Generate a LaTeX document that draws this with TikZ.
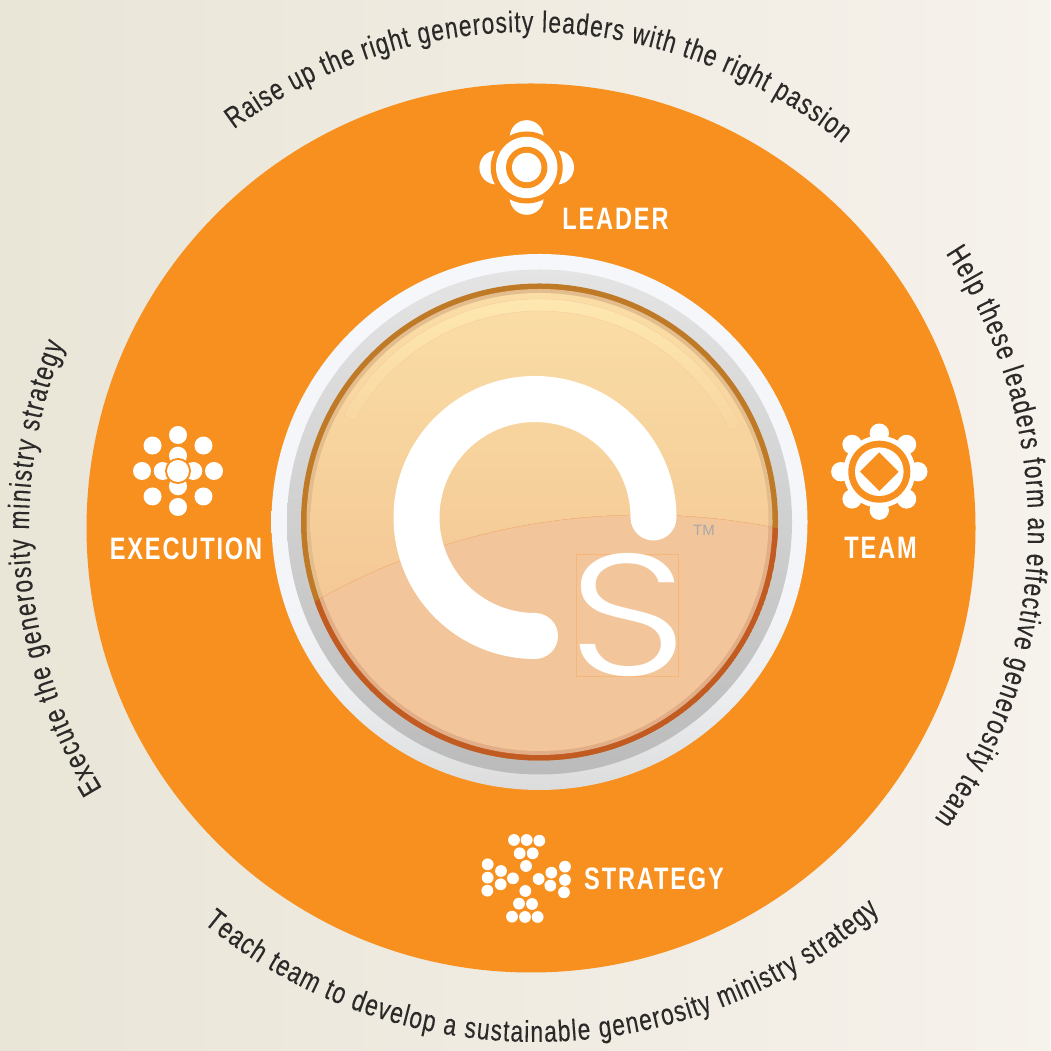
\documentclass[tikz,border=0pt]{standalone}
\usepackage{fontspec}
\usetikzlibrary{decorations.text,calc}
\setmainfont{Liberation Sans}
\newfontfamily\ringfamily[FakeStretch=0.76,FakeBold=0.15]{Liberation Sans}
\newfontfamily\labelfamily[FakeStretch=0.76,LetterSpace=6]{Liberation Sans}
\newfontfamily\esfamily{Poppins Light}
\newcommand{\ringfont}{\ringfamily\fontsize{30}{30}\selectfont}
\definecolor{orangeA}{HTML}{F7901E}
\definecolor{inkA}{HTML}{2B2A29}
\definecolor{hairA}{HTML}{F5B67A}
\definecolor{bgL}{RGB}{233,229,215}
\definecolor{bgR}{RGB}{246,242,236}
\definecolor{whT}{RGB}{245,247,250}
\definecolor{whM}{RGB}{243,245,248}
\definecolor{whN}{RGB}{235,237,239}
\definecolor{whB}{RGB}{220,220,220}
\definecolor{grT}{RGB}{228,228,228}
\definecolor{grM}{RGB}{193,193,193}
\definecolor{grB}{RGB}{187,187,187}
\definecolor{brnT}{RGB}{191,122,39}
\definecolor{brnB}{RGB}{193,91,34}
\definecolor{tanT}{RGB}{227,189,142}
\definecolor{tanB}{RGB}{226,174,136}
\definecolor{dskT}{RGB}{250,222,165}
\definecolor{dskB}{RGB}{241,189,142}
\definecolor{dskL}{RGB}{243,197,154}
\definecolor{hiT}{RGB}{255,236,180}
\definecolor{hiM}{RGB}{254,230,172}
\definecolor{hiB}{RGB}{248,214,160}
\definecolor{tmA}{RGB}{169,169,169}
\pgfdeclareverticalshading{ringw}{100bp}{color(0bp)=(whB);color(25bp)=(whB);color(33.4bp)=(whN);color(42.7bp)=(whM);color(75bp)=(whT);color(100bp)=(whT)}
\tikzset{
  x=1pt,y=1pt,
  iconw/.style={fill=white,draw=none},
  iconk/.style={fill=orangeA,draw=none},
  lab/.style={text=white,inner sep=0pt,font=\labelfamily\bfseries\fontsize{31}{31}\selectfont},
  ringtext/.style={decorate,decoration={text along path,text color=inkA,text align=fit to path,text={#1}}}
}
\begin{document}
\begin{tikzpicture}
\useasboundingbox (0,0) rectangle (1050,1051);
\shade[left color=bgL,right color=bgR] (0,0) rectangle (1050,1051);
% orange disc
\fill[orangeA] (531,523) circle (444.5);
% rings
\coordinate (R) at (539.5,529);
\shade[shading=ringw] (R) circle (268);
\shade[top color=grT,middle color=grM,bottom color=grB] (R) circle (252.5);
\fill[brnT] (R) circle (238.5);
\fill[tanT] (R) circle (233);
\shade[top color=dskT,bottom color=dskB] (R) circle (229);
% lower overlay
\begin{scope}
  \clip (644,-133) circle (669);
  \clip (R) circle (238.5);
  \fill[brnB] (R) circle (238.5);
  \fill[tanB] (R) circle (233);
  \fill[dskL] (R) circle (229);
\end{scope}
\begin{scope}
  \clip (R) circle (229);
  \draw[hairA,line width=.5pt] (644,-133) circle (669);
\end{scope}
% highlight band
\shade[top color=hiT,middle color=hiM,bottom color=hiB,draw=hairA!70!white,line width=.4pt]
  ($(R)+(25.7:223)$) arc[start angle=25.7,end angle=151.3,radius=223pt] -- ++(-28.7:12) arc[start angle=151.3,end angle=25.7,radius=211pt] -- cycle;
% C logo
\draw[white,line width=46pt,line cap=round] (653.5,533.5) arc[start angle=0,end angle=270,radius=118.5pt];
% S
\draw[hairA,line width=.5pt] (576.7,375) rectangle (678,497);
\node[inner sep=0pt,text=white] (esmark) at (628.5,436) {\resizebox{119pt}{122pt}{\esfamily S}};
\node[inner sep=0pt,text=tmA,font=\fontsize{15}{15}\selectfont] (tm) at (704,520.5) {TM};
% LEADER icon
\begin{scope}[shift={(526.7,883.5)}]
  \foreach \a in {0,90,180,270} \fill[iconw] (\a:30.3) circle (17);
  \fill[iconk] (0,0) circle (36);
  \fill[iconw] (0,0) circle (30.7);
  \fill[iconk] (0,0) circle (20.7);
  \fill[iconw] (0,0) circle (14.7);
\end{scope}
\node[lab] (leader) at (615.5,832.5) {LEADER};
% EXECUTION icon
\begin{scope}[shift={(178,580)}]
  \foreach \a in {0,45,...,315} \fill[iconw] (\a:36) circle (9);
  \foreach \a in {0,90,180,270} \fill[iconw] (\a:15.3) circle (9);
  \fill[iconk] (0,0) circle (13);
  \fill[iconw] (0,0) circle (11);
\end{scope}
\node[lab] (execution) at (186,502) {EXECUTION};
% TEAM icon
\begin{scope}[shift={(879.3,579.3)}]
  \foreach \a in {0,45,...,315} \fill[iconw] (\a:38.5) circle (9.7);
  \fill[iconw] (0,0) circle (36);
  \fill[iconk] (0,0) circle (31);
  \fill[iconw] (0,0) circle (24.3);
  \fill[iconk] (19.3,0) -- (0,19.3) -- (-19.3,0) -- (0,-19.3) -- cycle;
\end{scope}
\node[lab] (team) at (880.5,503.5) {TEAM};
% STRATEGY icon
\foreach \a/\b in {132/60,170/60,208/62,149/100,188/100,168/138,
  53/133,53/173,52/212,93/153,92/193,129/175,
  285/140,285/180,282/217,244/158,241/197,206/177,
  126/290,165/291,203/291,147/251,186/252,166/213}
  \fill[iconw] ({470+\a/3},{231-\b/3}) circle (5.9);
\node[lab] (strategy) at (654,172.5) {STRATEGY};
% ring texts
\coordinate (O) at (529,523);
\coordinate (Ob) at (535,531);
\path[ringtext={|\ringfont|Raise up the right generosity leaders with the right passion}]
  ($(O)+(126.5:496)$) arc[start angle=126.5,end angle=50.9,radius=496pt];
\path[ringtext={|\ringfont|Help these leaders form an effective generosity team}]
  ($(O)+(33.4:499)$) arc[start angle=33.4,end angle=-35.6,radius=499pt];
\path[ringtext={|\ringfont|Teach team to develop a sustainable generosity ministry strategy}]
  ($(Ob)+(230.6:522)$) arc[start angle=230.6,end angle=311.2,radius=522pt];
\path[ringtext={|\ringfont|Execute the generosity ministry strategy}]
  ($(O)+(211.4:500)$) arc[start angle=211.4,end angle=158.5,radius=500pt];
\end{tikzpicture}
\end{document}
